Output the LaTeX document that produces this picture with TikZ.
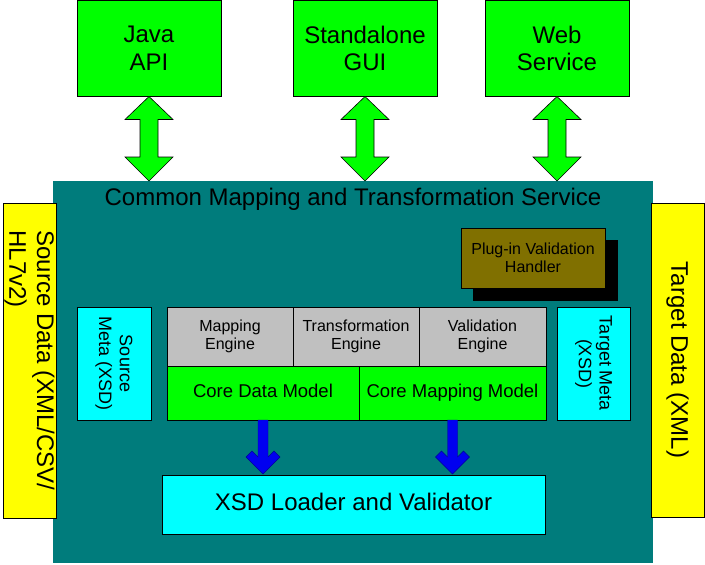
\documentclass[tikz,border=0pt]{standalone}
\usepackage{fontspec}
\setmainfont{Liberation Sans}
\definecolor{tealbg}{RGB}{0,124,124}
\definecolor{olivebox}{RGB}{128,112,0}
\definecolor{grayb}{RGB}{192,192,192}
\definecolor{greenb}{RGB}{0,255,0}
\definecolor{cyanb}{RGB}{0,255,255}
\definecolor{yellowb}{RGB}{255,255,0}
\definecolor{bluea}{RGB}{0,0,240}
\tikzset{
  box/.style={draw=black, line width=0.8pt, inner sep=0pt, outer sep=0pt, align=center, text=black},
  fbig/.style={font=\fontsize{24}{27.6}\selectfont},
  fmid/.style={font=\fontsize{18.5}{21}\selectfont},
  fsm/.style={font=\fontsize{18}{20.7}\selectfont},
  fxs/.style={font=\fontsize{16}{18.4}\selectfont},
  oneline/.style={text height=13.5pt, text depth=3.8pt},
  vtext/.style={rotate=-90, inner sep=0pt, align=center, text=black},
  garrow/.style={fill=greenb, draw=black, line width=0.6pt, line join=miter},
  barrow/.style={fill=bluea, draw=blue!60!black, line width=0.4pt},
}
\begin{document}
\begin{tikzpicture}[x=1pt,y=-1pt]
\useasboundingbox (0,0) rectangle (705,565);
% main service area
\node[inner sep=0pt, outer sep=0pt, fill=tealbg, minimum width=600pt, minimum height=382pt] (teal) at (353,372) {};
\node[fbig, inner sep=0pt, text=black] (title) at (353,199) {Common Mapping and Transformation Service};
% top clients
\node[box, fill=greenb, fbig, minimum width=144pt, minimum height=96pt] (java) at (149,48.5) {Java\\API};
\node[box, fill=greenb, fbig, minimum width=144pt, minimum height=96pt] (gui) at (365,48.5) {Standalone\\GUI};
\node[box, fill=greenb, fbig, minimum width=144pt, minimum height=96pt] (web) at (557,48.5) {Web\\Service};
% double arrows
\foreach \n in {java,gui,web}{
  \draw[garrow] (\n.south) -- ++(24,23) -- ++(-15,0) -- ++(0,37.5) -- ++(15,0) -- ++(-24,24) -- ++(-24,-24) -- ++(15,0) -- ++(0,-37.5) -- ++(-15,0) -- cycle;
}
% source/target data
\node[box, fill=yellowb, minimum width=53pt, minimum height=315pt] (srcdata) at (29.5,360.5) {};
\node[vtext, fbig, align=left] (srcdatat) at (srcdata.center) {Source Data (XML/CSV/\\HL7v2)};
\node[box, fill=yellowb, minimum width=53pt, minimum height=314pt] (tgtdata) at (677.5,360) {};
\node[vtext, fbig] (tgtdatat) at (tgtdata.center) {Target Data (XML)};
% meta
\node[box, fill=cyanb, minimum width=74pt, minimum height=113pt] (srcmeta) at (114,363.5) {};
\node[vtext, fsm] (srcmetat) at (srcmeta.center) {Source\\Meta (XSD)};
\node[box, fill=cyanb, minimum width=73pt, minimum height=113pt] (tgtmeta) at (593.5,363.5) {};
\node[vtext, fsm] (tgtmetat) at (tgtmeta.center) {Target Meta\\(XSD)};
% plug-in
\node[inner sep=0pt, outer sep=0pt, fill=black, minimum width=145pt, minimum height=61pt] (shadow) at (545.5,270.5) {};
\node[box, fill=olivebox, fxs, minimum width=144pt, minimum height=60pt] (plugin) at (533,258) {Plug-in Validation\\Handler};
% engines
\node[box, fill=grayb, fxs, minimum width=126pt, minimum height=59pt] (mapeng) at (230,336.5) {Mapping\\Engine};
\node[box, fill=grayb, fxs, minimum width=126pt, minimum height=59pt] (trfeng) at (356,336.5) {Transformation\\Engine};
\node[box, fill=grayb, fxs, minimum width=127pt, minimum height=59pt] (valeng) at (482.5,336.5) {Validation\\Engine};
\node[box, fill=greenb, fmid, oneline, minimum width=192pt, minimum height=54pt] (coredata) at (263,393) {Core Data Model};
\node[box, fill=greenb, fmid, oneline, minimum width=187pt, minimum height=54pt] (coremap) at (452.5,393) {Core Mapping Model};
% loader
\node[box, fill=cyanb, fbig, text height=17.5pt, text depth=5pt, minimum width=383pt, minimum height=59pt] (loader) at (353.5,504.5) {XSD Loader and Validator};
% blue arrows
\foreach \n in {coredata,coremap}{
  \draw[barrow] ([xshift=-5pt]\n.south) -- ++(0,37) -- ++(-6,-6) -- ++(-6,6) -- ++(17,17) -- ++(17,-17) -- ++(-6,-6) -- ++(-6,6) -- ++(0,-37) -- cycle;
}
\end{tikzpicture}
\end{document}
